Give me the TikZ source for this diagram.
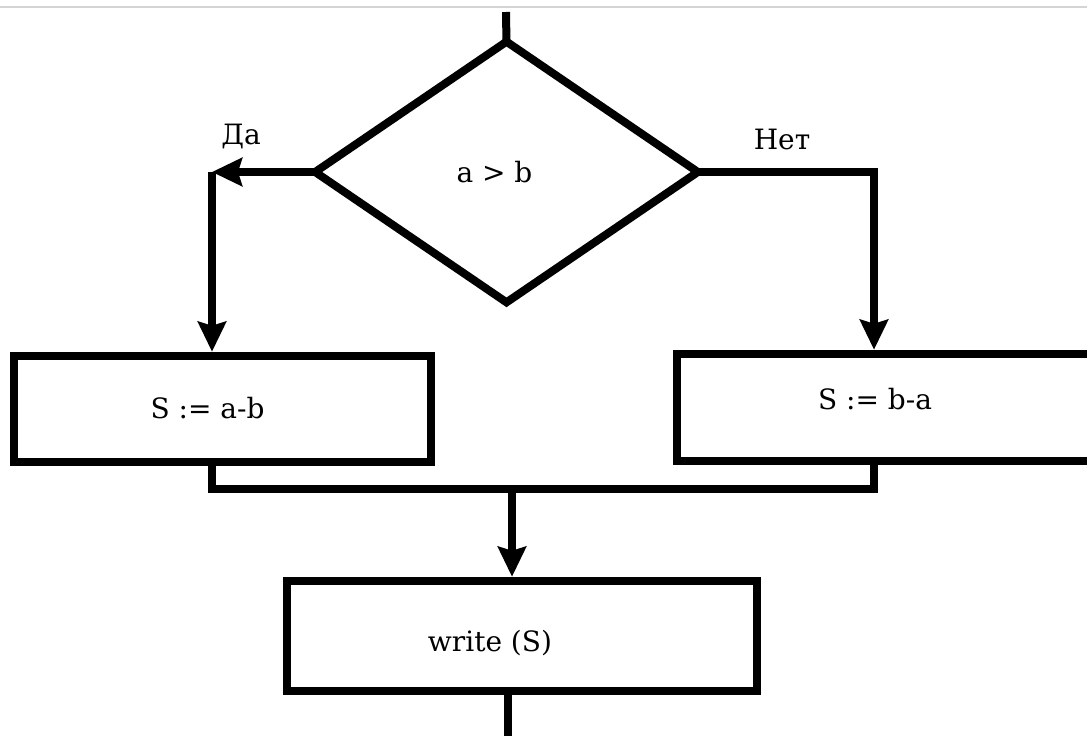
\documentclass[tikz,border=0pt]{standalone}
\usepackage{fontspec}
\setmainfont{DejaVu Serif}
\usepackage{tikz}
\usetikzlibrary{calc, arrows.meta, shapes.geometric, positioning}
\tikzset{
    rectanglenode/.style = {draw, rectangle, line width=8.5pt, inner sep = 0em, font=\fontsize{28}{34}\selectfont},
    decisionnode/.style = {draw, diamond, line width=8pt, inner sep = 0em, font=\fontsize{28}{34}\selectfont},
    textnode/.style  = {draw=none, fill=none, rectangle, inner sep = 0em, font=\fontsize{28}{34}\selectfont},
    connect/.style = {black, line width=8pt, -{Stealth[length=30pt, width=28pt, inset=4pt]}},
    plain/.style = {black, line width=8pt}
}
\begin{document}
\begin{tikzpicture}[x=1pt, y=-1pt]
    \useasboundingbox (0,0) rectangle (1087,736);
    \draw[line width=2pt, black!17] (0,6.5) -- (1087,6.5);

    \node [name=dec, decisionnode, minimum width=386pt, minimum height=264pt,
      label={[textnode, xshift=-12pt]center:a > b}] at (506.5,172) {};
    \coordinate (in) at (506,12);
    \draw[plain] (in) -- ($(dec.north)+(0,8)$);

    % yes / no branches
    \coordinate (yes) at (212,172);
    \coordinate (no) at (874,172);
    \node [name=da, textnode] at (241,136) {Да};
    \node [name=net, textnode] at (782,139) {Нет};

    \node [name=sub1, rectanglenode, minimum width=417pt, minimum height=106pt,
      label={[textnode, xshift=-15pt, yshift=1pt]center:S := a-b}] at (222.5,409) {};
    \node [name=sub2, rectanglenode, minimum width=423pt, minimum height=107pt,
      label={[textnode, xshift=-13.5pt, yshift=8.5pt]center:S := b-a}] at (888.5,407.5) {};

    \draw[connect] ($(dec.west)+(6,0)$) -- (yes);
    \draw[connect] (yes) -- (yes |- sub1.north);
    \draw[plain] ($(dec.east)+(-6,0)$) -- (no);
    \draw[connect] ($(no)+(0,-4)$) -- (no |- sub2.north);

    % join
    \coordinate (join) at (512,489);
    \draw[plain] (yes |- sub1.south) -- (yes |- join) -- (no |- join) -- (no |- sub2.south);

    \node [name=out, rectanglenode, minimum width=470pt, minimum height=110pt,
      label={[textnode, xshift=-32pt, yshift=-7pt]center:write (S)}] at (522,636) {};
    \draw[connect] (join) -- (join |- out.north);
    \draw[plain] ($(join |- out.south)+(-4,0)$) -- (508,745);
\end{tikzpicture}
\end{document}
